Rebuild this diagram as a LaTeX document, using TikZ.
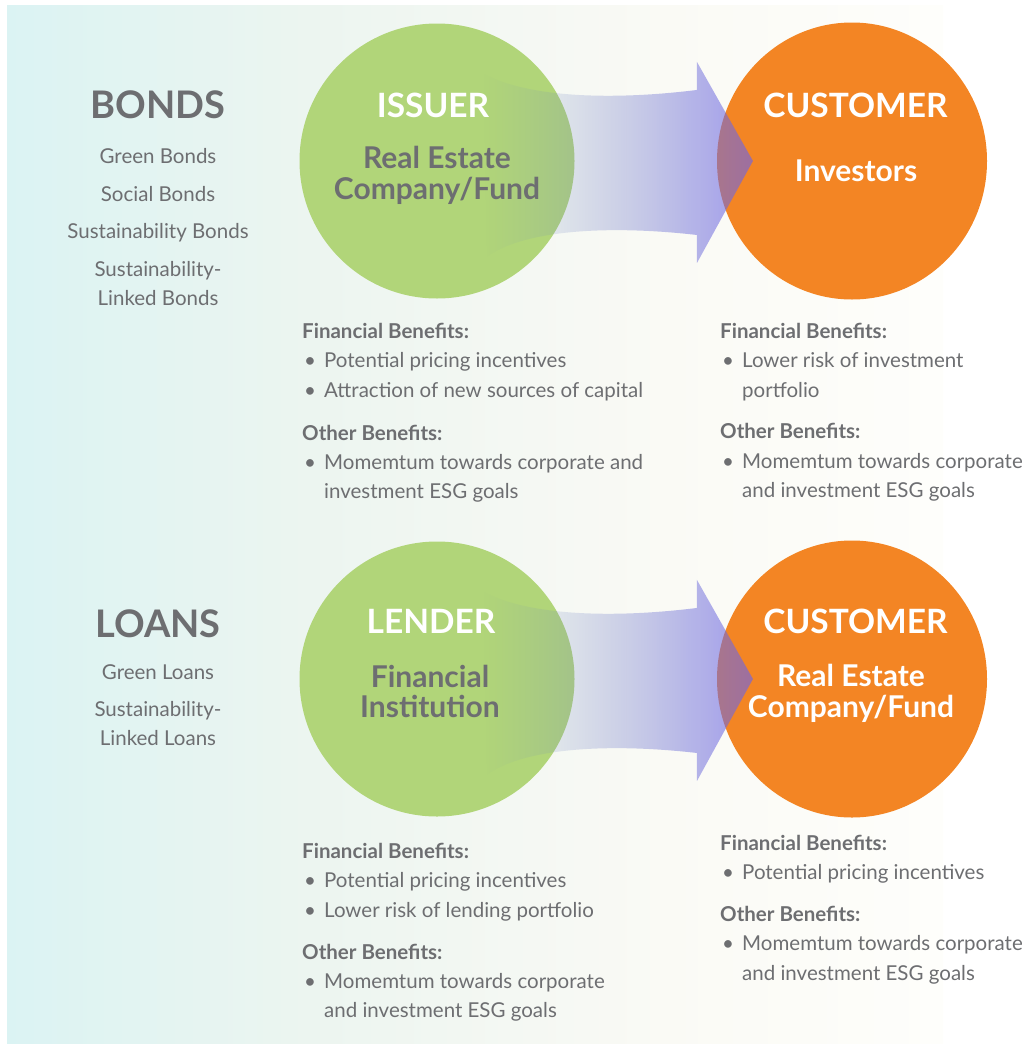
\documentclass[tikz,border=0pt]{standalone}
\usepackage{fontspec}
\setmainfont{Lato}
\usetikzlibrary{fadings,shapes.geometric}

\definecolor{ink}{RGB}{109,110,113}
\definecolor{leafgreen}{RGB}{177,213,121}
\definecolor{tangerine}{RGB}{243,133,36}
\definecolor{bgcyan}{RGB}{219,243,243}
\definecolor{bgmint}{RGB}{236,245,240}
\definecolor{bgivory}{RGB}{250,250,245}
\definecolor{bgend}{RGB}{254,254,251}
\definecolor{flowleft}{RGB}{120,150,180}
\definecolor{flowright}{RGB}{110,100,230}

% the path box is fitted to the 25bp--75bp middle of the shading
\pgfdeclarehorizontalshading{backdrop}{100bp}{color(0bp)=(bgcyan); color(25bp)=(bgcyan); color(41bp)=(bgmint); color(60bp)=(bgivory); color(75bp)=(bgend); color(100bp)=(bgend)}
\tikzfading[name=flowfade, left color=transparent!100, right color=transparent!35]

% bullet and continuation line for the benefit lists
\newcommand{\bul}{\makebox[22pt][l]{\hspace{2pt}\textbullet}}
\newcommand{\cont}{\hspace*{22pt}}

\tikzset{
	greenball/.style={circle, fill=leafgreen, minimum size=275pt, inner sep=0pt},
	orangeball/.style={ellipse, fill=tangerine, minimum width=270pt, minimum height=277pt, inner sep=0pt},
	kind/.style={text=ink, inner sep=0pt, font=\fontsize{38}{40}\selectfont\bfseries},
	kindlist/.style={text=ink, align=center, anchor=north, inner sep=0pt, font=\fontsize{20.5}{29}\selectfont},
	role/.style={text=white, inner sep=0pt, font=\fontsize{33.5}{35}\selectfont\bfseries},
	party/.style={align=center, anchor=north, inner sep=0pt, font=\fontsize{30}{31}\selectfont\bfseries},
	benefits/.style={text=ink, align=left, anchor=north west, inner sep=0pt, font=\fontsize{20.5}{29.4}\selectfont},
	flow/.style={left color=flowleft, right color=flowright, path fading=flowfade},
}

\begin{document}
\begin{tikzpicture}[x=1pt, y=-1pt]
	\useasboundingbox (0,0) rectangle (1021,1047);
	\shade[shading=backdrop] (7,5) rectangle (943,1043);

	% circles
	\node[greenball] (issuer) at (437,161) {};
	\node[orangeball] (investor) at (852,161) {};
	\node[greenball] (lender) at (437,679) {};
	\node[orangeball] (borrower) at (852,679) {};

	% flow arrows from the green to the orange circles
	\foreach \src in {issuer, lender} {
		\begin{scope}[shift={(\src.center)}]
			\shade[flow] (46,-88) .. controls (83,-66) and (163,-59) .. (260,-71)
				-- (260,-99) -- (316,0) -- (260,102) -- (260,74)
				.. controls (163,63) and (83,71) .. (50,96) -- cycle;
		\end{scope}
	}

	% bonds
	\node[kind] (bonds) at (158,105) {BONDS};
	\node[kindlist] (bondlist) at (158,148.5)
		{Green Bonds\\[8.5pt]Social Bonds\\[8.5pt]Sustainability Bonds\\[8.5pt]Sustainability-\\Linked Bonds};

	\node[role] (issuertitle) at (433,105) {ISSUER};
	\node[party, text=ink] (issuername) at (437,146) {Real Estate\\Company/Fund};
	\node[role] (investortitle) at (855.5,105) {CUSTOMER};
	\node[role, font=\fontsize{30}{31}\selectfont\bfseries] (investorname) at (856,171) {Investors};

	\node[benefits] (issuerben) at (302,323) {%
		{\bfseries Financial Benefits:}\\
		\bul Potential pricing incentives\\
		\bul Attraction of new sources of capital\\[13.5pt]
		{\bfseries Other Benefits:}\\
		\bul Momemtum towards corporate and\\
		\cont investment ESG goals};
	\node[benefits] (investorben) at (720,323) {%
		{\bfseries Financial Benefits:}\\
		\bul Lower risk of investment\\
		\cont portfolio\\[12pt]
		{\bfseries Other Benefits:}\\
		\bul Momemtum towards corporate\\
		\cont and investment ESG goals};

	% loans
	\node[kind] (loans) at (158,624) {LOANS};
	\node[kindlist] (loanlist) at (158,664.5)
		{Green Loans\\[8pt]Sustainability-\\Linked Loans};

	\node[role] (lendertitle) at (431,621) {LENDER};
	\node[party, text=ink, font=\fontsize{30}{30}\selectfont\bfseries] (lendername) at (430,665) {Financial\\Institution};
	\node[role] (borrowertitle) at (855.5,621) {CUSTOMER};
	\node[party, text=white] (borrowername) at (851,664) {Real Estate\\Company/Fund};

	\node[benefits] (lenderben) at (302,843) {%
		{\bfseries Financial Benefits:}\\
		\bul Potential pricing incentives\\
		\bul Lower risk of lending portfolio\\[12.5pt]
		{\bfseries Other Benefits:}\\
		\bul Momemtum towards corporate\\
		\cont and investment ESG goals};
	\node[benefits] (borrowerben) at (720,835) {%
		{\bfseries Financial Benefits:}\\
		\bul Potential pricing incentives\\[12pt]
		{\bfseries Other Benefits:}\\
		\bul Momemtum towards corporate\\
		\cont and investment ESG goals};
\end{tikzpicture}
\end{document}
